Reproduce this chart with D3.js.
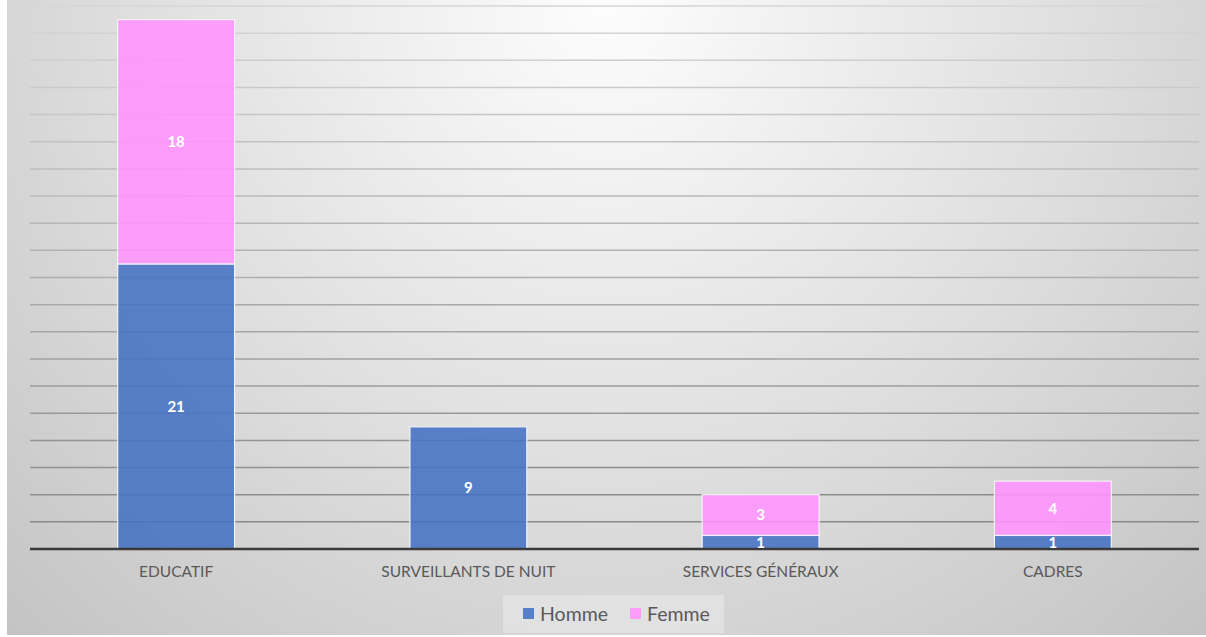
<!DOCTYPE html>
<html>
<head>
<meta charset="utf-8">
<script src="https://cdn.jsdelivr.net/npm/d3@7"></script>
<style>
  html, body { margin: 0; padding: 0; background: #ffffff; }
  svg { display: block; }
</style>
</head>
<body>
<script>
// Effectifs par service, répartis par sexe
const categories = ["EDUCATIF", "SURVEILLANTS DE NUIT", "SERVICES GÉNÉRAUX", "CADRES"];
const seriesNames = ["Homme", "Femme"];
const homme = [21, 9, 1, 1];
const femme = [18, 0, 3, 4];
const yTicks = [0, 2, 4, 6, 8, 10, 12, 14, 16, 18, 20, 22, 24, 26, 28, 30, 32, 34, 36, 38, 40];

const W = 1206, H = 637;
const colors = { Homme: "#4472C4", Femme: "#FF93FF" };
const font = "Lato, 'Open Sans', 'Liberation Sans', sans-serif";

const rows = categories.map((c, i) => ({ cat: c, Homme: homme[i], Femme: femme[i] }));
const stacked = d3.stack().keys(seriesNames)(rows);

const svg = d3.select("body").append("svg").attr("width", W).attr("height", H);

// Chart background: soft radial gradient, light at top centre
const defs = svg.append("defs");
const grad = defs.append("radialGradient")
  .attr("id", "bg").attr("gradientUnits", "userSpaceOnUse")
  .attr("cx", 606).attr("cy", 0).attr("r", 880);
grad.append("stop").attr("offset", "0%").attr("stop-color", "#fdfdfd");
grad.append("stop").attr("offset", "55%").attr("stop-color", "#dedede");
grad.append("stop").attr("offset", "100%").attr("stop-color", "#c3c3c3");
svg.append("rect").attr("x", 7).attr("y", 0).attr("width", W - 7).attr("height", 635)
  .attr("fill", "url(#bg)");

const x = d3.scaleBand().domain(categories).range([30, 1199])
  .paddingInner(0.6).paddingOuter(0.3);
const y = d3.scaleLinear().domain([0, 40]).range([549, 6]);

// Horizontal gridlines, darker towards the baseline
const gridColor = d3.scaleLinear().domain([6, 549]).range(["#d6d6d6", "#858585"]);
svg.append("g").attr("class", "grid")
  .selectAll("line").data(yTicks.filter(t => t > 0)).join("line")
  .attr("x1", 30).attr("x2", 1199)
  .attr("y1", d => y(d)).attr("y2", d => y(d))
  .attr("stroke", d => gridColor(y(d))).attr("stroke-width", 1.5);

// Stacked bars
const layer = svg.append("g").selectAll("g").data(stacked).join("g")
  .attr("fill", d => colors[d.key]).attr("fill-opacity", 0.88);
layer.selectAll("rect").data(d => d.map(v => ({ key: d.key, v }))).join("rect")
  .filter(d => d.v[1] - d.v[0] > 0)
  .attr("x", d => x(d.v.data.cat))
  .attr("width", x.bandwidth())
  .attr("y", d => y(d.v[1]))
  .attr("height", d => y(d.v[0]) - y(d.v[1]))
  .attr("stroke", "#f4f4f4").attr("stroke-width", 1.2);

// Baseline axis
const xAxis = svg.append("g").attr("transform", `translate(0,${y(0)})`)
  .call(d3.axisBottom(x).tickSize(0).tickPadding(17));
xAxis.select(".domain").attr("stroke", "#3a3a3a").attr("stroke-width", 2.5)
  .attr("d", "M30,0H1199");
xAxis.selectAll("text").attr("fill", "#595959")
  .style("font-family", font).style("font-size", "15.5px");

// Value labels inside each segment
svg.append("g").selectAll("g").data(stacked).join("g")
  .selectAll("text").data(d => d.filter(v => v[1] - v[0] > 0)).join("text")
  .attr("x", v => x(v.data.cat) + x.bandwidth() / 2)
  .attr("y", v => (y(v[0]) + y(v[1])) / 2)
  .attr("dy", "0.36em")
  .attr("text-anchor", "middle")
  .attr("fill", "#ffffff")
  .style("font-family", font).style("font-weight", "bold").style("font-size", "15px")
  .text(v => v[1] - v[0]);

// Legend
const legend = svg.append("g");
legend.append("rect").attr("x", 503).attr("y", 595).attr("width", 221).attr("height", 38)
  .attr("fill", "#ffffff").attr("fill-opacity", 0.3);
const legendItems = [{ key: "Homme", x: 523 }, { key: "Femme", x: 630 }];
const li = legend.selectAll("g.item").data(legendItems).join("g").attr("class", "item");
li.append("rect").attr("x", d => d.x).attr("y", 608).attr("width", 11).attr("height", 11)
  .attr("fill", d => colors[d.key]).attr("fill-opacity", 0.88);
li.append("text").attr("x", d => d.x + 17).attr("y", 614).attr("dy", "0.36em")
  .attr("fill", "#595959")
  .style("font-family", font).style("font-size", "19.5px")
  .text(d => d.key);
</script>
</body>
</html>
